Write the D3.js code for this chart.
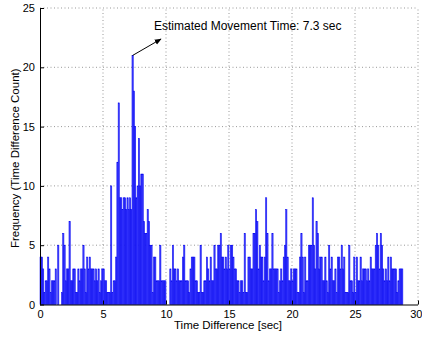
<!DOCTYPE html>
<html><head><meta charset="utf-8">
<script src="https://cdn.jsdelivr.net/npm/d3@7"></script>
<style>body{margin:0;background:#fff}svg{display:block}text{font-family:"Liberation Sans",Arial,sans-serif}</style>
</head><body><svg id="c" width="422" height="337"></svg>
<script>
const binWidth = 0.1;
const counts0to5 = [4,4,3,1,2,2,4,3,1,2,2,2,3,0,5,0,0,1,6,5,2,3,3,7,2,2,3,3,1,1,3,2,3,3,5,3,1,4,3,4,3,3,3,2,3,2,3,1,2,3];
const counts5to10 = [3,2,2,1,1,1,10,1,2,2,4,12,17,9,9,8,9,9,8,9,8,9,8,21,18,15,9,10,14,10,11,11,7,6,6,8,7,5,5,1,4,4,2,2,2,5,2,2,2,2];
const counts10to15 = [0,0,0,3,2,5,3,3,2,3,2,2,2,4,5,2,2,2,1,3,4,4,4,2,2,1,1,5,1,1,2,2,4,3,2,4,2,2,5,3,3,5,5,6,4,4,3,4,3,5];
const counts15to20 = [3,5,5,4,3,3,2,2,1,2,2,1,6,1,1,4,4,3,3,6,6,8,7,3,5,4,4,2,4,9,6,2,3,3,6,3,3,3,3,1,2,3,2,4,5,8,4,2,2,3];
const counts20to25 = [2,3,3,3,1,1,4,6,4,1,4,2,2,5,5,5,9,5,3,7,6,3,4,4,2,2,4,2,1,5,3,4,2,2,3,1,4,4,3,5,3,4,1,1,1,5,2,2,1,4];
const counts25to29 = [1,4,2,2,4,2,3,3,3,2,3,2,4,3,3,3,5,6,5,3,6,5,3,2,3,2,4,2,4,3,3,3,3,1,2,3,3,3];
const counts = [].concat(counts0to5, counts5to10, counts10to15, counts15to20, counts20to25, counts25to29);
const xTicks = [0,5,10,15,20,25,30];
const yTicks = [0,5,10,15,20,25];
const annotation = {text: "Estimated Movement Time: 7.3 sec", x: 7.3, y: 21};
const xLabel = "Time Difference [sec]";
const yLabel = "Frequency (Time Difference Count)";

const svg = d3.select("#c");
const L = 40, R = 418, T = 8, B = 304.5;
const x = d3.scaleLinear().domain([0,30]).range([L,R]);
const y = d3.scaleLinear().domain([0,25]).range([B,T]);

// grid
const g = svg.append("g");
g.selectAll("line.gx").data(xTicks.filter(d=>d>0)).join("line")
  .attr("x1",d=>x(d)).attr("x2",d=>x(d)).attr("y1",B).attr("y2",T)
  .attr("stroke","#999").attr("stroke-width",1).attr("stroke-dasharray","1,2.5");
g.selectAll("line.gy").data(yTicks.filter(d=>d>0)).join("line")
  .attr("y1",d=>y(d)).attr("y2",d=>y(d)).attr("x1",L).attr("x2",R)
  .attr("stroke","#999").attr("stroke-width",1).attr("stroke-dasharray","1,2.5");

// bars
const data = counts.map((c,i)=>({x0:i*binWidth, x1:(i+1)*binWidth, c}));
svg.append("g").selectAll("rect").data(data.filter(d=>d.c>0)).join("rect")
  .attr("x",d=>x(d.x0)).attr("width",d=>x(d.x1)-x(d.x0))
  .attr("y",d=>y(d.c)).attr("height",d=>y(0)-y(d.c))
  .attr("fill","#4040ff").attr("stroke","#0000f0").attr("stroke-width",0.5);

// axes
const xAxis = d3.axisBottom(x).tickValues(xTicks).tickSize(-4).tickPadding(6);
const yAxis = d3.axisLeft(y).tickValues(yTicks).tickSize(-4).tickPadding(5);
const ax = svg.append("g").attr("transform",`translate(0,${B})`).call(xAxis);
const ay = svg.append("g").attr("transform",`translate(${L},0)`).call(yAxis);
[ax,ay].forEach(a=>{
  a.select(".domain").attr("stroke","#000").attr("stroke-width",1);
  a.selectAll(".tick line").attr("stroke","#000");
  a.selectAll(".tick text").attr("font-size",11).attr("fill","#000").attr("font-family","Liberation Sans, Arial, sans-serif");
});
ax.selectAll(".tick text").filter(d=>d===30).attr("text-anchor","end").attr("dx",4);
ax.select(".domain").attr("d",`M${L},0.5H${R}`);
ay.select(".domain").attr("d",`M0.5,${B}V${T}`);

svg.append("text").attr("x",(L+R)/2-1).attr("y",329).attr("text-anchor","middle")
  .attr("font-size",11.5).text(xLabel);
svg.append("text").attr("transform",`translate(19,${(T+B)/2+2}) rotate(-90)`).attr("text-anchor","middle")
  .attr("font-size",11.5).text(yLabel);

// annotation arrow
const defs = svg.append("defs");
defs.append("marker").attr("id","ah").attr("viewBox","0 0 10 10").attr("refX",9).attr("refY",5)
  .attr("markerWidth",7).attr("markerHeight",7).attr("orient","auto")
  .append("path").attr("d","M0,1L10,5L0,9z").attr("fill","#000");
const ax0 = x(annotation.x+0.05), ay0 = y(annotation.y);
svg.append("line").attr("x1",ax0).attr("y1",ay0).attr("x2",161).attr("y2",39)
  .attr("stroke","#000").attr("stroke-width",1).attr("marker-end","url(#ah)");
svg.append("text").attr("x",154).attr("y",30).attr("font-size",12).text(annotation.text);
</script></body></html>
